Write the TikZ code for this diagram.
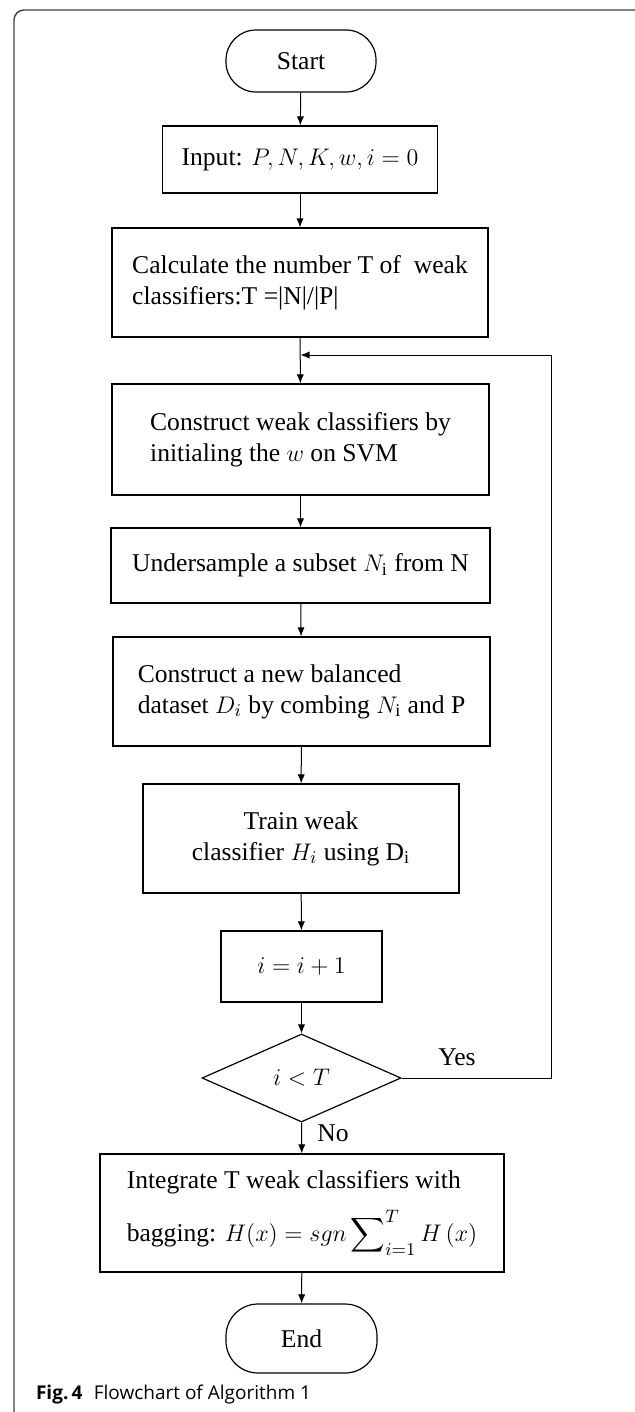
\documentclass[tikz,border=0pt]{standalone}
\usepackage{fontspec}
\setmainfont{Liberation Serif}
\newfontfamily\capfont{Open Sans}
\usepackage{amsmath}
\usepackage{tikz}
\usetikzlibrary{arrows.meta}
\usetikzlibrary{shapes.geometric}

\begin{document}
\begin{tikzpicture}[x=0.5pt,y=-0.5pt,
  font=\fontsize{12.8}{15.5}\selectfont,
  box/.style={draw,line width=0.6pt,inner sep=0pt},
  term/.style={box,rounded corners=15pt,minimum width=75pt,minimum height=31pt},
  arr/.style={-{Latex[length=4.5pt,width=3.6pt]},line width=0.5pt}]
\useasboundingbox (0,0) rectangle (635,1412);
\clip (0,0) rectangle (635,1412);

% frame of the figure
\draw[black!75,line width=0.7pt,rounded corners=5pt] (14,10) rectangle (660,1425);

\node[term] (start) at (301,61) {Start};
\node[box,minimum width=137.5pt,minimum height=33.5pt] (input) at (300,159.5)
  {Input: $P, N, K, w, i=0$};
\node[box,minimum width=188pt,minimum height=54.5pt,align=left] (calc) at (300,282.5)
  {Calculate the number T of\ \ weak\\classifiers:T =|N|/|P|};
\node[box,minimum width=188.5pt,minimum height=55.5pt,align=left] (weak) at (300.5,439.5)
  {Construct weak classifiers by\\initialing the $w$ on SVM};
\node[box,minimum width=189.5pt,minimum height=37.5pt] (under) at (300.5,565.5)
  {Undersample a subset $N_{\mathrm{i}}$ from N};
\node[box,minimum width=188.5pt,minimum height=54.5pt,align=left] (balance) at (301.5,691.5)
  {Construct a new balanced\\dataset $D_i$ by combing $N_{\mathrm{i}}$ and P};
\node[box,minimum width=158pt,minimum height=54.5pt,align=center] (train) at (301,838.5)
  {Train weak\\classifier $H_i$ using D$_{\mathrm{i}}$};
\node[box,minimum width=80.5pt,minimum height=35.5pt] (incr) at (301.5,966.5) {$i=i+1$};
\node[box,diamond,minimum width=99.5pt,minimum height=44pt] (test) at (301.5,1078) {$i<T$};
\node[box,minimum width=202pt,minimum height=59pt,align=left] (integ) at (302,1213)
  {Integrate T weak classifiers with\\[7pt]bagging: $H(x)=sgn\displaystyle\sum\nolimits_{i=1}^{T}H\,(x)$};
\node[term,minimum width=75.5pt,minimum height=34.5pt,rounded corners=16pt] (stop) at (301.5,1338.5) {End};

\node (yes) at (457,1057) {Yes};
\node (no) at (333,1133) {No};

\coordinate (join) at (300.5,355);
\coordinate (loop) at (551,355);

\draw[arr] (start) -- (input);
\draw[arr] (input) -- (calc);
\draw[arr] (calc) -- (weak);
\draw[arr] (weak) -- (under);
\draw[arr] (under) -- (balance);
\draw[arr] (balance) -- (train);
\draw[arr] (train) -- (incr);
\draw[arr] (incr) -- (test);
\draw[arr] (test) -- (integ);
\draw[arr] (integ) -- (stop);
\draw[arr] (test.east) -| (loop) -- (join);

\node[anchor=base west,font=\capfont\fontsize{9.5}{11}\selectfont] (cap) at (29,1399)
  {\textbf{Fig.\,4}\hspace{0.6em}Flowchart of Algorithm 1};
\end{tikzpicture}
\end{document}
